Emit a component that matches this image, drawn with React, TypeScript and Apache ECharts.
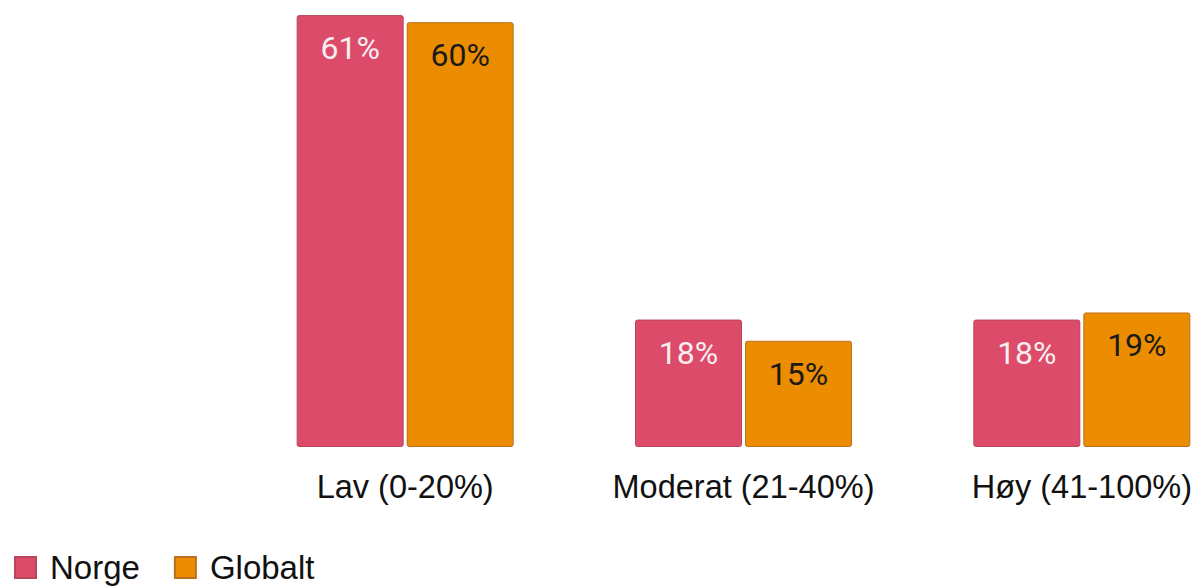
import React, { useEffect, useRef } from "react";
import * as echarts from "echarts";

const categories = ["Lav (0-20%)", "Moderat (21-40%)", "Høy (41-100%)"];
const norge = [61, 18, 18];
const globalt = [60, 15, 19];
const seriesNames = ["Norge", "Globalt"];

export default function App() {
  const ref = useRef<HTMLDivElement>(null);
  useEffect(() => {
    if (!ref.current) return;
    const chart = echarts.init(ref.current, null, { renderer: "svg" });
    const labelBase = {
      show: true,
      position: "insideTop",
      distance: 17,
      fontFamily: "Roboto",
      fontSize: 32,
      formatter: "{c}%",
    };
    chart.setOption({
      animation: false,
      grid: { left: 236, top: 8, width: 1015, height: 439 },
      legend: {
        left: 9,
        top: 546,
        itemWidth: 21,
        itemHeight: 21,
        itemGap: 34,
        icon: "rect",
        data: seriesNames,
        textStyle: {
          fontFamily: "Liberation Sans",
          fontSize: 33,
          color: "#111",
          padding: [0, 0, 0, 9],
        },
      },
      xAxis: {
        type: "category",
        data: categories,
        axisLine: { show: false },
        axisTick: { show: false },
        axisLabel: {
          interval: 0,
          hideOverlap: false,
          margin: 23,
          fontFamily: "Liberation Sans",
          fontSize: 32.5,
          color: "#111",
        },
      },
      yAxis: { type: "value", min: 0, max: 62, show: false, splitLine: { show: false } },
      series: [
        {
          name: seriesNames[0],
          type: "bar",
          data: norge,
          barWidth: 107,
          barGap: "2.8%",
          itemStyle: { color: "#dc4b69", borderColor: "#b8455c", borderWidth: 1, borderRadius: 2 },
          label: { ...labelBase, color: "#f8eef0" },
        },
        {
          name: seriesNames[1],
          type: "bar",
          data: globalt,
          barWidth: 107,
          itemStyle: { color: "#ec8c00", borderColor: "#b87020", borderWidth: 1, borderRadius: 2 },
          label: { ...labelBase, color: "#1a1a1a" },
        },
      ],
    });
    return () => chart.dispose();
  }, []);
  return (
    <div style={{ position: "fixed", left: 0, top: 0, width: 1193, height: 586, overflow: "hidden", background: "#fff" }}>
      <div ref={ref} style={{ width: 1260, height: 586 }} />
    </div>
  );
}
